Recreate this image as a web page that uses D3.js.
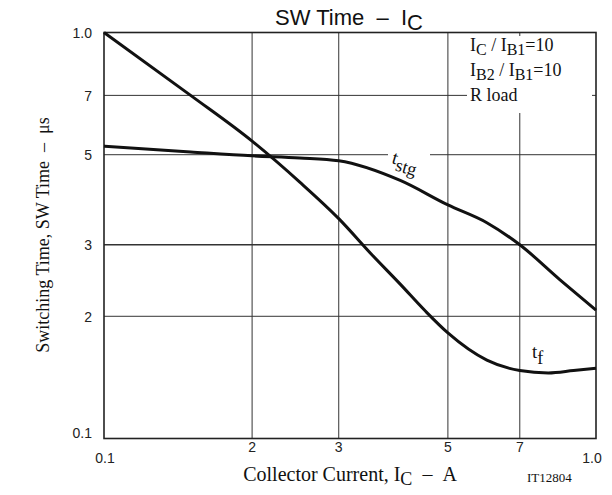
<!DOCTYPE html>
<html>
<head>
<meta charset="utf-8">
<script src="https://cdn.jsdelivr.net/npm/d3@7"></script>
<style>
  body { margin: 0; background: #fff; }
  svg { display: block; }
</style>
</head>
<body>
<div id="chart"></div>
<script>
// collector current (A, log) vs switching time (us, log)
var xTicks = [0.1, 0.2, 0.3, 0.5, 0.7, 1.0];
var xTickLabels = ["0.1", "2", "3", "5", "7", "1.0"];
var yTicks = [0.1, 0.2, 0.3, 0.5, 0.7, 1.0];
var yTickLabels = ["0.1", "2", "3", "5", "7", "1.0"];

var tfCurrent = [0.1, 0.15, 0.2, 0.25, 0.3, 0.35, 0.4, 0.45, 0.5, 0.6, 0.7, 0.8, 0.9, 1.0];
var tfTime    = [1.0, 0.70, 0.54, 0.428, 0.348, 0.284, 0.240, 0.206, 0.182, 0.156, 0.147, 0.145, 0.147, 0.149];

var tstgCurrent = [0.1, 0.15, 0.2, 0.25, 0.3, 0.4, 0.5, 0.6, 0.7, 0.845, 1.0];
var tstgTime    = [0.525, 0.508, 0.497, 0.491, 0.483, 0.432, 0.376, 0.340, 0.300, 0.246, 0.207];

(function (selector) {
    var svg = d3.select(selector).append("svg")
        .attr("width", 612)
        .attr("height", 495);

    var left = 104, right = 596, top = 32.5, bottom = 438.5;

    var x = d3.scaleLog().domain([0.1, 1.0]).range([left, right]);
    var y = d3.scaleLog().domain([0.1, 1.0]).range([bottom, top]);

    var serif = "'Liberation Serif', 'Times New Roman', serif";
    var sans = "'Liberation Sans', Arial, sans-serif";
    var sp = "\u00a0";

    // grid
    var grid = svg.append("g").attr("stroke", "#333").attr("stroke-width", 1);
    grid.selectAll("line.v")
        .data(xTicks.slice(1, -1))
        .enter().append("line")
        .attr("class", "v")
        .attr("x1", function (d) { return x(d); })
        .attr("x2", function (d) { return x(d); })
        .attr("y1", top)
        .attr("y2", bottom);
    grid.selectAll("line.h")
        .data(yTicks.slice(1, -1))
        .enter().append("line")
        .attr("class", "h")
        .attr("x1", left)
        .attr("x2", right)
        .attr("y1", function (d) { return y(d); })
        .attr("y2", function (d) { return y(d); })
        .attr("stroke-width", function (d) { return d === 0.3 ? 1.5 : 1; });

    // white boxes behind the legend and the tstg label
    svg.append("rect")
        .attr("x", 467).attr("y", 36)
        .attr("width", 125).attr("height", 77)
        .attr("fill", "#fff");
    svg.append("rect")
        .attr("x", 388).attr("y", 150)
        .attr("width", 42).attr("height", 9)
        .attr("fill", "#fff");

    // frame
    svg.append("rect")
        .attr("x", left).attr("y", top)
        .attr("width", right - left).attr("height", bottom - top)
        .attr("fill", "none")
        .attr("stroke", "#222")
        .attr("stroke-width", 1.6);

    // tick labels
    svg.append("g")
        .selectAll("text")
        .data(xTicks)
        .enter().append("text")
        .attr("x", function (d, i) {
            if (i === 0) return x(d) + 1;
            if (i === xTicks.length - 1) return x(d) - 4;
            return x(d);
        })
        .attr("y", function (d, i) { return (i === 0 || i === xTicks.length - 1) ? 463 : 452; })
        .attr("text-anchor", "middle")
        .attr("font-family", sans)
        .attr("font-size", 14)
        .attr("fill", "#222")
        .text(function (d, i) { return xTickLabels[i]; });

    svg.append("g")
        .selectAll("text")
        .data(yTicks)
        .enter().append("text")
        .attr("x", 92)
        .attr("y", function (d, i) {
            if (i === 0) return y(d) - 5;
            return y(d) + 1;
        })
        .attr("dy", "0.32em")
        .attr("text-anchor", "end")
        .attr("font-family", sans)
        .attr("font-size", 14)
        .attr("fill", "#222")
        .text(function (d, i) { return yTickLabels[i]; });

    // curves
    var line = d3.line()
        .x(function (d) { return x(d[0]); })
        .y(function (d) { return y(d[1]); })
        .curve(d3.curveMonotoneX);

    var series = [
        d3.zip(tfCurrent, tfTime),
        d3.zip(tstgCurrent, tstgTime)
    ];
    svg.append("g")
        .selectAll("path")
        .data(series)
        .enter().append("path")
        .attr("d", line)
        .attr("fill", "none")
        .attr("stroke", "#111")
        .attr("stroke-width", 3);

    // title
    var title = svg.append("text")
        .attr("x", 349).attr("y", 25)
        .attr("text-anchor", "middle")
        .attr("font-family", sans)
        .attr("font-size", 22)
        .attr("fill", "#111");
    title.append("tspan").text("SW Time" + sp + sp + "\u2013" + sp + sp + "I");
    title.append("tspan").attr("dy", 5).attr("font-size", 22).text("C");

    // axis titles
    var xt = svg.append("text")
        .attr("x", 350).attr("y", 481)
        .attr("text-anchor", "middle")
        .attr("font-family", serif)
        .attr("font-size", 20)
        .attr("fill", "#111");
    xt.append("tspan").text("Collector Current, I");
    xt.append("tspan").attr("dy", 4).attr("font-size", 18).text("C");
    xt.append("tspan").attr("dy", -4).text(sp + sp + "\u2013" + sp + sp + "A");

    svg.append("text")
        .attr("transform", "translate(49,235) rotate(-90)")
        .attr("text-anchor", "middle")
        .attr("font-family", serif)
        .attr("font-size", 18)
        .attr("fill", "#111")
        .text("Switching Time, SW Time" + sp + sp + "\u2013" + sp + sp + "\u03bcs");

    svg.append("text")
        .attr("x", 527).attr("y", 482)
        .attr("font-family", serif)
        .attr("font-size", 13)
        .attr("fill", "#111")
        .text("IT12804");

    // legend
    var legend = svg.append("g")
        .attr("font-family", serif)
        .attr("font-size", 18)
        .attr("fill", "#111");
    var l1 = legend.append("text").attr("x", 470).attr("y", 51);
    l1.append("tspan").text("I");
    l1.append("tspan").attr("dy", 4).attr("font-size", 16).text("C");
    l1.append("tspan").attr("dy", -4).text(" / I");
    l1.append("tspan").attr("dy", 4).attr("font-size", 16).text("B1");
    l1.append("tspan").attr("dy", -4).text("=10");
    var l2 = legend.append("text").attr("x", 470).attr("y", 76);
    l2.append("tspan").text("I");
    l2.append("tspan").attr("dy", 4).attr("font-size", 16).text("B2");
    l2.append("tspan").attr("dy", -4).text(" / I");
    l2.append("tspan").attr("dy", 4).attr("font-size", 16).text("B1");
    l2.append("tspan").attr("dy", -4).text("=10");
    legend.append("text").attr("x", 470).attr("y", 101).text("R load");

    // curve labels
    var ts = svg.append("text")
        .attr("transform", "translate(391,163) rotate(16)")
        .attr("font-family", serif)
        .attr("font-size", 19)
        .attr("fill", "#111");
    ts.append("tspan").text("t");
    ts.append("tspan").attr("dy", 6).attr("font-size", 18).text("stg");

    var tf = svg.append("text")
        .attr("x", 532).attr("y", 358)
        .attr("font-family", serif)
        .attr("font-size", 19)
        .attr("fill", "#111");
    tf.append("tspan").text("t");
    tf.append("tspan").attr("dy", 6).attr("font-size", 18).text("f");
})("#chart");
</script>
</body>
</html>
